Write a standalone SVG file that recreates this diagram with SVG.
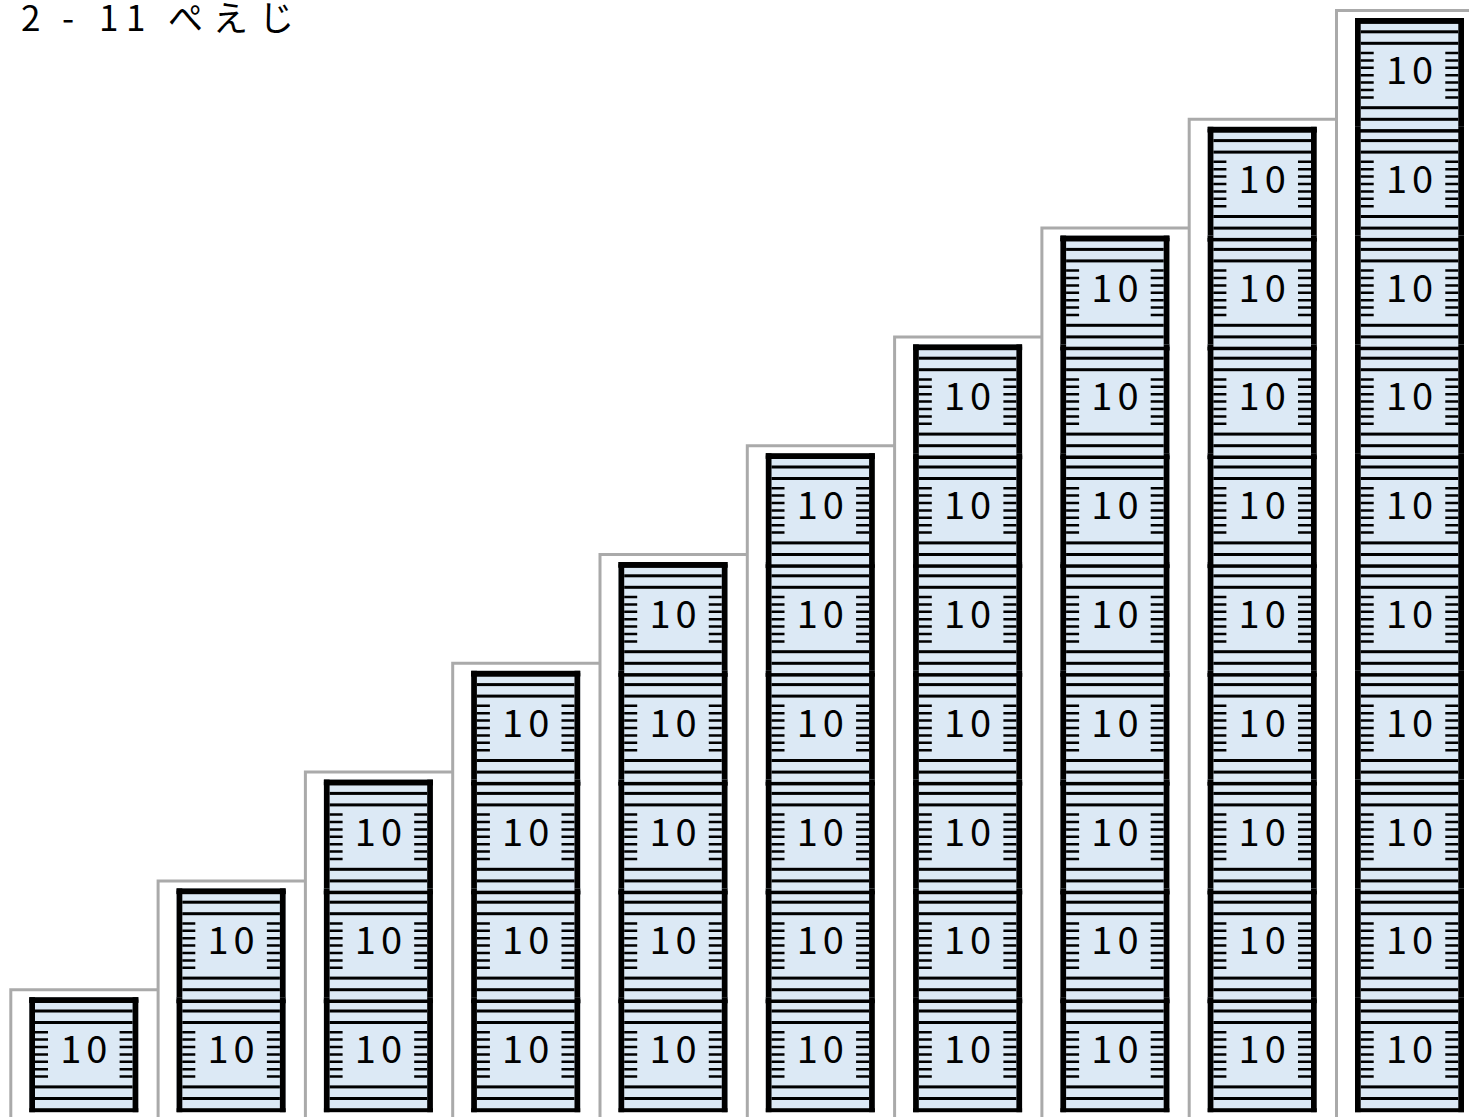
<svg xmlns="http://www.w3.org/2000/svg" xmlns:xlink="http://www.w3.org/1999/xlink" width="1469" height="1117" viewBox="0 0 1469 1117">
<style>
.n{font-family:"Noto Sans CJK JP","Noto Sans","Liberation Sans",sans-serif;font-size:38px;fill:#000;text-anchor:middle;letter-spacing:5px}
.title{font-family:"Noto Sans CJK JP","Noto Sans",sans-serif;font-size:35px;fill:#000}
.step{fill:none;stroke:#aaaaaa;stroke-width:3}
.cap{fill:#000}
</style>
<defs>
<g id="body">
<rect x="0" y="0" width="109" height="111" fill="#dce9f5"/>
<rect x="0" y="0" width="5.7" height="115"/>
<rect x="103.3" y="0" width="5.7" height="115"/>
<rect x="0" y="2.3" width="109" height="3.5"/>
<rect x="0" y="111" width="109" height="4"/>
<rect x="5.7" y="12.3" width="97.6" height="3"/>
<rect x="5.7" y="23.8" width="97.6" height="3"/>
<rect x="5.7" y="88.2" width="97.6" height="3"/>
<rect x="5.7" y="99.8" width="97.6" height="3"/>
<path d="M5.7 35h13M5.7 42.4h13M5.7 49.8h13M5.7 57.2h13M5.7 64.6h13M5.7 72h13M5.7 79.4h13M90.3 35h13M90.3 42.4h13M90.3 49.8h13M90.3 57.2h13M90.3 64.6h13M90.3 72h13M90.3 79.4h13" stroke="#000" stroke-width="2.5"/>
</g>
</defs>
<rect width="1469" height="1117" fill="#fff"/>
<text class="title" x="21 44 62 84 99 126 150 168 213 259" y="31">2 - 11 ぺえじ</text>
<g id="steps">
<path class="step" d="M10.8 1117V989.7H158.1M158.1 1117V880.9H305.4M305.4 1117V772.1H452.7M452.7 1117V663.3H600M600 1117V554.5H747.3M747.3 1117V445.7H894.6M894.6 1117V336.9H1041.9M1041.9 1117V228.1H1189.2M1189.2 1117V119.3H1336.5M1336.5 1117V10.5H1469"/>
</g>
<g id="col1">
<g id="c1-b1"><use xlink:href="#body" x="29.3" y="997.2"/><rect class="cap" x="29.3" y="997.2" width="109" height="5.5"/><text class="n" x="86.3" y="1063.2">10</text></g>
</g>
<g id="col2">
<g id="c2-b2"><use xlink:href="#body" x="176.6" y="888.4"/><rect class="cap" x="176.6" y="888.4" width="109" height="5.5"/><text class="n" x="233.6" y="954.4">10</text></g>
<g id="c2-b1"><use xlink:href="#body" x="176.6" y="997.2"/><text class="n" x="233.6" y="1063.2">10</text></g>
</g>
<g id="col3">
<g id="c3-b3"><use xlink:href="#body" x="323.9" y="779.6"/><rect class="cap" x="323.9" y="779.6" width="109" height="5.5"/><text class="n" x="380.9" y="845.6">10</text></g>
<g id="c3-b2"><use xlink:href="#body" x="323.9" y="888.4"/><text class="n" x="380.9" y="954.4">10</text></g>
<g id="c3-b1"><use xlink:href="#body" x="323.9" y="997.2"/><text class="n" x="380.9" y="1063.2">10</text></g>
</g>
<g id="col4">
<g id="c4-b4"><use xlink:href="#body" x="471.2" y="670.8"/><rect class="cap" x="471.2" y="670.8" width="109" height="5.5"/><text class="n" x="528.2" y="736.8">10</text></g>
<g id="c4-b3"><use xlink:href="#body" x="471.2" y="779.6"/><text class="n" x="528.2" y="845.6">10</text></g>
<g id="c4-b2"><use xlink:href="#body" x="471.2" y="888.4"/><text class="n" x="528.2" y="954.4">10</text></g>
<g id="c4-b1"><use xlink:href="#body" x="471.2" y="997.2"/><text class="n" x="528.2" y="1063.2">10</text></g>
</g>
<g id="col5">
<g id="c5-b5"><use xlink:href="#body" x="618.5" y="562"/><rect class="cap" x="618.5" y="562" width="109" height="5.5"/><text class="n" x="675.5" y="628">10</text></g>
<g id="c5-b4"><use xlink:href="#body" x="618.5" y="670.8"/><text class="n" x="675.5" y="736.8">10</text></g>
<g id="c5-b3"><use xlink:href="#body" x="618.5" y="779.6"/><text class="n" x="675.5" y="845.6">10</text></g>
<g id="c5-b2"><use xlink:href="#body" x="618.5" y="888.4"/><text class="n" x="675.5" y="954.4">10</text></g>
<g id="c5-b1"><use xlink:href="#body" x="618.5" y="997.2"/><text class="n" x="675.5" y="1063.2">10</text></g>
</g>
<g id="col6">
<g id="c6-b6"><use xlink:href="#body" x="765.8" y="453.2"/><rect class="cap" x="765.8" y="453.2" width="109" height="5.5"/><text class="n" x="822.8" y="519.2">10</text></g>
<g id="c6-b5"><use xlink:href="#body" x="765.8" y="562"/><text class="n" x="822.8" y="628">10</text></g>
<g id="c6-b4"><use xlink:href="#body" x="765.8" y="670.8"/><text class="n" x="822.8" y="736.8">10</text></g>
<g id="c6-b3"><use xlink:href="#body" x="765.8" y="779.6"/><text class="n" x="822.8" y="845.6">10</text></g>
<g id="c6-b2"><use xlink:href="#body" x="765.8" y="888.4"/><text class="n" x="822.8" y="954.4">10</text></g>
<g id="c6-b1"><use xlink:href="#body" x="765.8" y="997.2"/><text class="n" x="822.8" y="1063.2">10</text></g>
</g>
<g id="col7">
<g id="c7-b7"><use xlink:href="#body" x="913.1" y="344.4"/><rect class="cap" x="913.1" y="344.4" width="109" height="5.5"/><text class="n" x="970.1" y="410.4">10</text></g>
<g id="c7-b6"><use xlink:href="#body" x="913.1" y="453.2"/><text class="n" x="970.1" y="519.2">10</text></g>
<g id="c7-b5"><use xlink:href="#body" x="913.1" y="562"/><text class="n" x="970.1" y="628">10</text></g>
<g id="c7-b4"><use xlink:href="#body" x="913.1" y="670.8"/><text class="n" x="970.1" y="736.8">10</text></g>
<g id="c7-b3"><use xlink:href="#body" x="913.1" y="779.6"/><text class="n" x="970.1" y="845.6">10</text></g>
<g id="c7-b2"><use xlink:href="#body" x="913.1" y="888.4"/><text class="n" x="970.1" y="954.4">10</text></g>
<g id="c7-b1"><use xlink:href="#body" x="913.1" y="997.2"/><text class="n" x="970.1" y="1063.2">10</text></g>
</g>
<g id="col8">
<g id="c8-b8"><use xlink:href="#body" x="1060.4" y="235.6"/><rect class="cap" x="1060.4" y="235.6" width="109" height="5.5"/><text class="n" x="1117.4" y="301.6">10</text></g>
<g id="c8-b7"><use xlink:href="#body" x="1060.4" y="344.4"/><text class="n" x="1117.4" y="410.4">10</text></g>
<g id="c8-b6"><use xlink:href="#body" x="1060.4" y="453.2"/><text class="n" x="1117.4" y="519.2">10</text></g>
<g id="c8-b5"><use xlink:href="#body" x="1060.4" y="562"/><text class="n" x="1117.4" y="628">10</text></g>
<g id="c8-b4"><use xlink:href="#body" x="1060.4" y="670.8"/><text class="n" x="1117.4" y="736.8">10</text></g>
<g id="c8-b3"><use xlink:href="#body" x="1060.4" y="779.6"/><text class="n" x="1117.4" y="845.6">10</text></g>
<g id="c8-b2"><use xlink:href="#body" x="1060.4" y="888.4"/><text class="n" x="1117.4" y="954.4">10</text></g>
<g id="c8-b1"><use xlink:href="#body" x="1060.4" y="997.2"/><text class="n" x="1117.4" y="1063.2">10</text></g>
</g>
<g id="col9">
<g id="c9-b9"><use xlink:href="#body" x="1207.7" y="126.8"/><rect class="cap" x="1207.7" y="126.8" width="109" height="5.5"/><text class="n" x="1264.7" y="192.8">10</text></g>
<g id="c9-b8"><use xlink:href="#body" x="1207.7" y="235.6"/><text class="n" x="1264.7" y="301.6">10</text></g>
<g id="c9-b7"><use xlink:href="#body" x="1207.7" y="344.4"/><text class="n" x="1264.7" y="410.4">10</text></g>
<g id="c9-b6"><use xlink:href="#body" x="1207.7" y="453.2"/><text class="n" x="1264.7" y="519.2">10</text></g>
<g id="c9-b5"><use xlink:href="#body" x="1207.7" y="562"/><text class="n" x="1264.7" y="628">10</text></g>
<g id="c9-b4"><use xlink:href="#body" x="1207.7" y="670.8"/><text class="n" x="1264.7" y="736.8">10</text></g>
<g id="c9-b3"><use xlink:href="#body" x="1207.7" y="779.6"/><text class="n" x="1264.7" y="845.6">10</text></g>
<g id="c9-b2"><use xlink:href="#body" x="1207.7" y="888.4"/><text class="n" x="1264.7" y="954.4">10</text></g>
<g id="c9-b1"><use xlink:href="#body" x="1207.7" y="997.2"/><text class="n" x="1264.7" y="1063.2">10</text></g>
</g>
<g id="col10">
<g id="c10-b10"><use xlink:href="#body" x="1355" y="18"/><rect class="cap" x="1355" y="18" width="109" height="5.5"/><text class="n" x="1412" y="84">10</text></g>
<g id="c10-b9"><use xlink:href="#body" x="1355" y="126.8"/><text class="n" x="1412" y="192.8">10</text></g>
<g id="c10-b8"><use xlink:href="#body" x="1355" y="235.6"/><text class="n" x="1412" y="301.6">10</text></g>
<g id="c10-b7"><use xlink:href="#body" x="1355" y="344.4"/><text class="n" x="1412" y="410.4">10</text></g>
<g id="c10-b6"><use xlink:href="#body" x="1355" y="453.2"/><text class="n" x="1412" y="519.2">10</text></g>
<g id="c10-b5"><use xlink:href="#body" x="1355" y="562"/><text class="n" x="1412" y="628">10</text></g>
<g id="c10-b4"><use xlink:href="#body" x="1355" y="670.8"/><text class="n" x="1412" y="736.8">10</text></g>
<g id="c10-b3"><use xlink:href="#body" x="1355" y="779.6"/><text class="n" x="1412" y="845.6">10</text></g>
<g id="c10-b2"><use xlink:href="#body" x="1355" y="888.4"/><text class="n" x="1412" y="954.4">10</text></g>
<g id="c10-b1"><use xlink:href="#body" x="1355" y="997.2"/><text class="n" x="1412" y="1063.2">10</text></g>
</g>
</svg>
